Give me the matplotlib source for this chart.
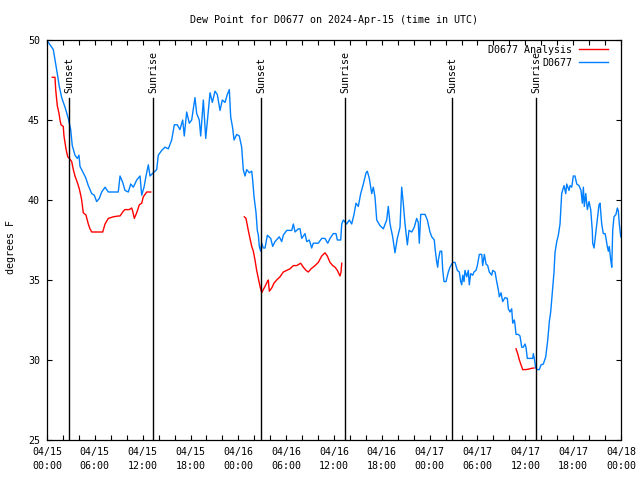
import numpy as np
import matplotlib
matplotlib.use("Agg")
import matplotlib.pyplot as plt

nan = np.nan

# hours since 2024-04-15 00:00 UTC
obs_hours = [0.16, 0.79, 1.09, 1.29, 1.54, 1.63, 1.84, 2.26, 2.67, 2.89, 2.97, 3.17, 3.51, 3.80, 4.01,
             4.14, 4.55, 4.85, 5.18, 5.61, 5.93, 6.23, 6.56, 6.86, 7.28, 7.69, 8.94, 9.16, 9.50, 9.78,
             10.20, 10.50, 10.83, 11.25, 11.67, 11.88, 12.17, 12.42, 12.71, 12.92, 13.33, 13.76, 13.96,
             14.39, 14.80, 15.22, 15.64, 15.97, 16.34, 16.68, 17.02, 17.22, 17.52, 17.85, 18.15, 18.56,
             18.78, 19.10, 19.28, 19.61, 19.91, 20.23, 20.45, 20.74, 21.07, 21.36, 21.70, 21.99, 22.33,
             22.62, 22.87, 23.04, 23.29, 23.46, 23.80, 24.12, 24.42, 24.62, 24.84, 25.05, 25.38, 25.68,
             25.80, 25.97, 26.22, 26.38, 26.51, 26.63, 26.81, 26.93, 27.13, 27.35, 27.64, 28.06, 28.31,
             28.60, 29.14, 29.44, 29.64, 30.07, 30.70, 30.90, 31.11, 31.52, 31.74, 31.95, 32.36, 32.58,
             32.90, 33.20, 33.40, 34.03, 34.46, 34.87, 35.21, 35.50, 35.91, 36.25, 36.42, 36.84, 36.97,
             37.17, 37.59, 37.92, 38.22, 38.51, 38.76, 39.05, 39.35, 39.68, 40.02, 40.18, 40.43, 40.73,
             40.93, 41.14, 41.36, 41.77, 42.19, 42.61, 42.81, 43.03, 43.36, 43.65, 43.94, 44.28, 44.49,
             44.69, 44.91, 45.20, 45.41, 45.75, 46.07, 46.37, 46.57, 46.70, 46.88, 47.42, 47.71, 48.04,
             48.26, 48.58, 48.67, 48.89, 49.01, 49.09, 49.30, 49.51, 49.64, 49.80, 50.05, 50.34, 50.55,
             50.89, 51.18, 51.47, 51.72, 51.89, 52.02, 52.15, 52.31, 52.43, 52.65, 52.85, 52.97, 53.15,
             53.40, 53.56, 53.81, 53.98, 54.23, 54.53, 54.65, 54.86, 55.07, 55.28, 55.48, 55.78, 55.91,
             56.20, 56.41, 56.61, 56.74, 56.95, 57.16, 57.45, 57.74, 57.87, 58.08, 58.29, 58.42, 58.62,
             58.71, 58.83, 59.12, 59.33, 59.55, 59.75, 59.96, 60.08, 60.25, 60.93, 61.00, 61.13, 61.30,
             61.50, 61.75, 61.97, 62.26, 62.56, 62.81, 63.01, 63.18, 63.43, 63.60, 63.72, 63.94, 64.14,
             64.35, 64.56, 64.85, 65.07, 65.19, 65.48, 65.61, 65.82, 66.02, 66.23, 66.45, 66.73, 66.98,
             67.15, 67.28, 67.40, 67.58, 67.78, 67.99, 68.20, 68.40, 68.45, 68.62, 68.83, 69.03, 69.24,
             69.37, 69.58, 69.78, 70.00, 70.12, 70.28, 70.41, 70.53, 70.71, 70.84, 70.96, 71.12, 71.37,
             71.54, 71.67, 71.79, 71.97]
obs_dewpt = [49.86, 49.4, 48.5, 47.9, 47.1, 46.9, 46.4, 45.8, 45.1, 44.6, 44.4, 43.4, 42.8, 42.6, 42.8,
             42.1, 41.7, 41.4, 40.9, 40.4, 40.3, 39.9, 40.1, 40.5, 40.8, 40.5, 40.5, 41.5, 41.1, 40.6,
             40.5, 41.0, 40.8, 41.25, 41.5, 40.3, 40.8, 41.5, 42.2, 41.5, 41.7, 41.9, 42.8,
             43.1, 43.3, 43.2, 43.75, 44.7, 44.7, 44.4, 45.0, 44.0, 45.5, 44.8, 45.0, 46.4,
             45.4, 45.0, 44.0, 46.25, 43.85, 45.5, 46.7, 46.1, 46.8, 46.6, 45.6, 46.25, 46.1,
             46.6, 46.9, 45.2, 44.5, 43.75, 44.1, 44.0, 43.3, 41.9, 41.5, 41.9, 41.7, 41.8,
             41.25, 40.2, 39.2, 38.1, 37.8, 37.1, 36.8, 37.3, 37.0, 37.0, 37.8, 37.6, 37.1,
             37.4, 37.7, 37.4, 37.8, 38.1, 38.1, 38.5, 38.0, 38.2, 38.2, 37.6, 37.9, 37.4,
             37.5, 37.0, 37.3, 37.3, 37.6, 37.6, 37.3, 37.6, 37.9, 37.9, 37.5, 37.5, 38.5,
             38.75, 38.5, 38.75, 38.5, 39.1, 39.8, 39.6, 40.4, 41.0, 41.7, 41.8, 41.35, 40.4,
             40.8, 40.2, 38.75, 38.4, 38.2, 38.75, 39.6, 38.5, 37.7, 36.7, 37.6, 38.3, 40.8,
             39.8, 38.5, 37.2, 38.1, 38.0, 38.3, 38.85, 38.6, 37.3, 39.1, 39.1, 38.75, 38.0,
             37.7, 37.5, 37.0, 36.1, 35.8, 36.25, 36.8, 36.8, 35.6, 34.9, 34.9, 35.5, 35.8,
             36.1, 36.1, 35.6, 35.5, 34.9, 34.7, 35.3, 34.9, 35.6, 35.2, 35.6, 34.7, 35.4,
             35.3, 35.5, 35.6, 35.9, 36.6, 36.6, 35.9, 36.6, 36.0, 35.9, 35.5, 35.3, 35.6,
             35.5, 34.9, 34.4, 33.95, 34.2, 33.65, 33.9, 33.85, 33.2, 33.0, 33.2, 32.3, 32.5,
             32.2, 31.6, 31.6, 31.5, 30.8, 30.8, 31.0, 30.8, 30.1, 30.1, 30.4, 30.1, 29.5,
             29.4, 29.4, 29.7, 29.75, 30.2, 31.25, 32.4, 33.0, 34.5, 35.5, 36.7, 37.4, 37.8,
             38.5, 40.4, 40.9, 40.4, 41.0, 40.6, 40.9, 40.8, 41.5, 41.5, 41.0, 40.9, 40.6,
             39.8, 40.8, 39.6, 40.4, 39.4, 39.9, 39.4, 38.1, 37.3, 37.0, 37.9, 38.75, 39.7,
             39.8, 38.5, 37.9, 37.9, 37.6, 37.1, 36.8, 37.1, 36.25, 35.8, 38.1, 38.95, 39.1,
             39.5, 39.3, 38.5, 37.7]

ana_hours = [0.66, 1.00, 1.09, 1.29, 1.51, 1.63, 1.76, 2.04, 2.13, 2.38, 2.60, 2.80, 3.10, 3.30, 3.51,
             3.80, 4.05, 4.23, 4.35, 4.55, 4.89, 5.18, 5.39, 5.61, 6.99, 7.28, 7.69, 8.32, 8.94, 9.16,
             9.57, 9.78, 10.32, 10.62, 10.75, 10.95, 11.25, 11.58, 11.88, 12.08, 12.51, 13.01, nan,
             24.75, 24.96, 25.25, 25.46, 25.68, 25.88, 26.09, 26.30, 26.51, 26.72, 26.93, 27.13, 27.35,
             27.64, 27.76, 27.89, 28.19, 28.47, 28.81, 29.23, 29.64, 30.07, 30.48, 30.90, 31.32, 31.82,
             32.15, 32.49, 32.78, 33.12, 33.62, 34.03, 34.46, 34.87, 35.16, 35.50, 35.84, 36.13, 36.42,
             36.75, 36.88, 36.97, nan,
             58.83, 59.04, 59.25, 59.46, 59.67, 60.08, 60.30, 60.80, 61.09]
ana_dewpt = [47.67, 47.67, 46.9, 45.9, 45.4, 45.0, 44.7, 44.6, 44.0, 43.2, 42.7, 42.6, 42.4, 41.9, 41.5,
             41.1, 40.7, 40.3, 40.0, 39.2, 39.06, 38.5, 38.2, 38.0, 38.0, 38.5, 38.85, 38.95, 39.0, 39.0,
             39.3, 39.4, 39.4, 39.5, 39.3, 38.85, 39.2, 39.7, 39.8, 40.2, 40.5, 40.5, nan,
             38.95, 38.85, 38.1, 37.6, 37.1, 36.8, 36.25, 35.6, 35.1, 34.6, 34.2, 34.4, 34.6,
             34.9, 35.0, 34.3, 34.5, 34.8, 35.0, 35.2, 35.5, 35.6, 35.7, 35.9, 35.9, 36.05,
             35.8, 35.6, 35.5, 35.7, 35.9, 36.1, 36.5, 36.7, 36.5, 36.1, 35.9, 35.8, 35.6,
             35.25, 35.5, 36.05, nan,
             30.7, 30.4, 30.0, 29.7, 29.4, 29.4, 29.42, 29.48, 29.5]

sunset_hours = [2.82, 26.87, 50.85]
sunrise_hours = [13.35, 37.4, 61.37]

xtick_hours = [0, 6, 12, 18, 24, 30, 36, 42, 48, 54, 60, 66, 72]
xtick_labels = ["04/15\n00:00", "04/15\n06:00", "04/15\n12:00", "04/15\n18:00", "04/16\n00:00",
                "04/16\n06:00", "04/16\n12:00", "04/16\n18:00", "04/17\n00:00", "04/17\n06:00",
                "04/17\n12:00", "04/17\n18:00", "04/18\n00:00"]

plt.rcParams['font.family'] = ['DejaVu Sans Mono']
fs = 7.2

fig = plt.figure(figsize=(6.4, 4.8), dpi=100)
ax = fig.add_axes([47/640, 1-440/480, 574/640, 400/480])

ax.plot(ana_hours, ana_dewpt, color='#ff0000', lw=1.0, label='D0677 Analysis')
ax.plot(obs_hours, obs_dewpt, color='#0080ff', lw=1.0, label='D0677')

for h in sunset_hours:
    ax.plot([h, h], [25, 46.36], color='black', lw=1.0)
    ax.text(h, 46.7, 'Sunset', rotation=90, ha='center', va='bottom', fontsize=fs)
for h in sunrise_hours:
    ax.plot([h, h], [25, 46.36], color='black', lw=1.0)
    ax.text(h, 46.7, 'Sunrise', rotation=90, ha='center', va='bottom', fontsize=fs)

ax.set_xlim(0, 72)
ax.set_ylim(25, 50)
ax.set_xticks(xtick_hours)
ax.set_xticklabels(xtick_labels, fontsize=fs, linespacing=1.5)
ax.set_xticks(np.arange(0, 73, 2), minor=True)
ax.set_yticks([25, 30, 35, 40, 45, 50])
ax.tick_params(axis='both', which='both', direction='in', top=True, right=True,
               length=3.3, width=0.8, labelsize=fs)
ax.tick_params(axis='x', pad=5)
ax.tick_params(axis='y', pad=5)
for s in ax.spines.values():
    s.set_linewidth(0.9)

leg = ax.legend(loc='upper right', bbox_to_anchor=(1 - 8/574, 1), frameon=False, markerfirst=False,
                handlelength=2.9, handletextpad=0.7, labelspacing=0.3, borderaxespad=0.4,
                borderpad=0.1, fontsize=fs)

fig.text(334/640, 1-20/480, 'Dew Point for D0677 on 2024-Apr-15 (time in UTC)', ha='center',
         va='center', fontsize=fs)
fig.text(11/640, 1-247/480, 'degrees F', rotation=90, ha='center', va='center', fontsize=fs)

fig.savefig('out.png', dpi=100)
